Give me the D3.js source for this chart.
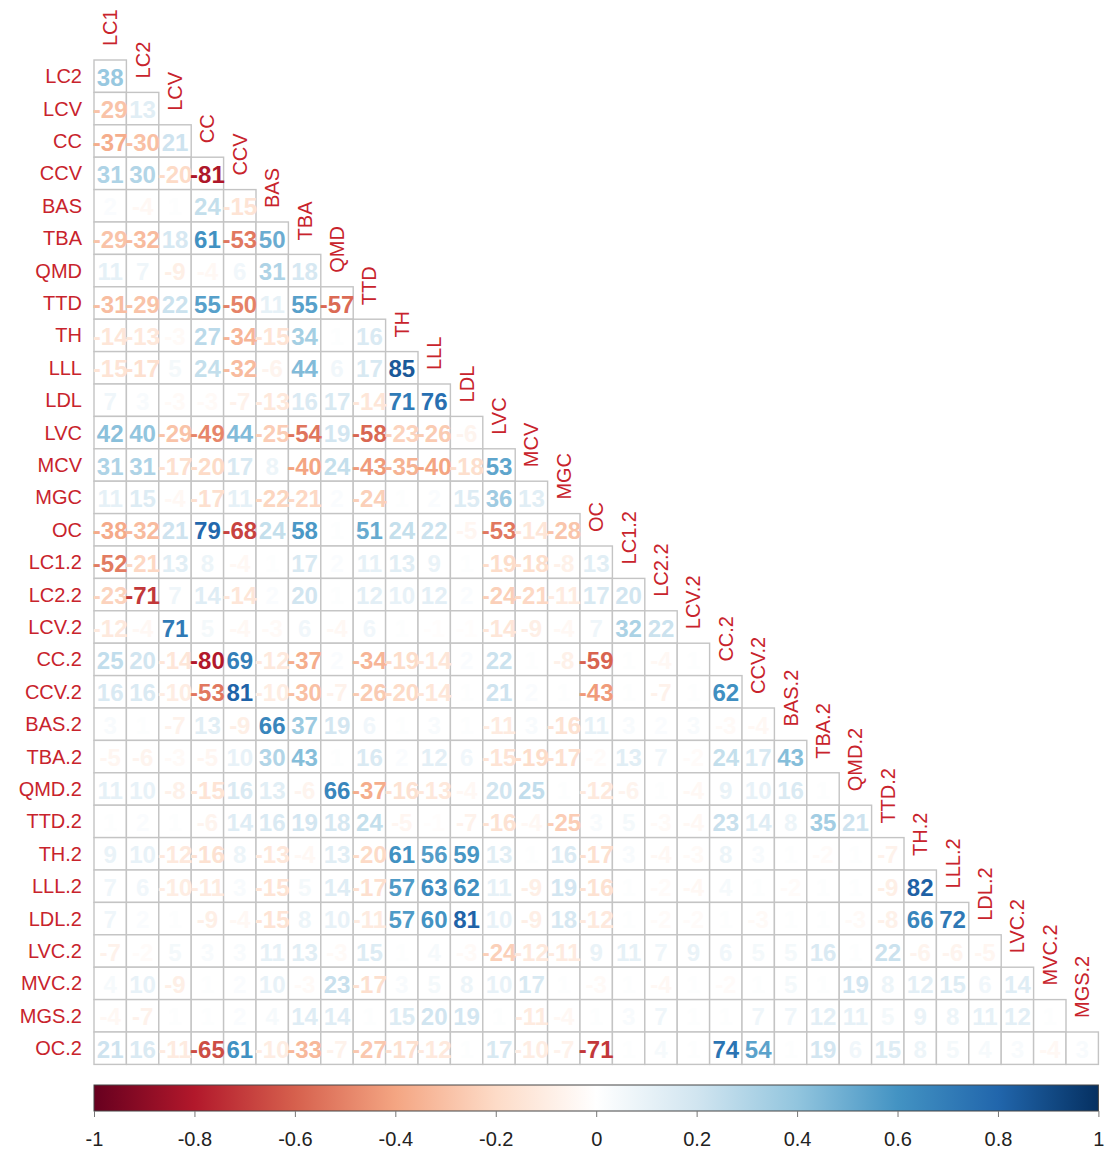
<!DOCTYPE html>
<html>
<head>
<meta charset="utf-8">
<script src="https://cdn.jsdelivr.net/npm/d3@7/dist/d3.min.js"></script>
<style>
  body { margin: 0; background: #ffffff; }
  svg { display: block; }
</style>
</head>
<body>
<svg id="chart" width="1107" height="1152"></svg>
<script>
// Variables along the columns (top, rotated) and rows (left)
const colVars = ["LC1","LC2","LCV","CC","CCV","BAS","TBA","QMD","TTD","TH","LLL","LDL","LVC","MCV","MGC","OC",
  "LC1.2","LC2.2","LCV.2","CC.2","CCV.2","BAS.2","TBA.2","QMD.2","TTD.2","TH.2","LLL.2","LDL.2","LVC.2","MVC.2","MGS.2"];
const rowVars = ["LC2","LCV","CC","CCV","BAS","TBA","QMD","TTD","TH","LLL","LDL","LVC","MCV","MGC","OC",
  "LC1.2","LC2.2","LCV.2","CC.2","CCV.2","BAS.2","TBA.2","QMD.2","TTD.2","TH.2","LLL.2","LDL.2","LVC.2","MVC.2","MGS.2","OC.2"];

// Correlation coefficients x100, lower triangle, one array per row
const rLC2  = [38];
const rLCV  = [-29, 13];
const rCC   = [-37, -30, 21];
const rCCV  = [31, 30, -20, -81];
const rBAS  = [2, -4, 1, 24, -15];
const rTBA  = [-29, -32, 18, 61, -53, 50];
const rQMD  = [11, 7, -9, -4, 6, 31, 18];
const rTTD  = [-31, -29, 22, 55, -50, 11, 55, -57];
const rTH   = [-14, -13, -3, 27, -34, -15, 34, 1, 16];
const rLLL  = [-15, -17, 5, 24, -32, -6, 44, 6, 17, 85];
const rLDL  = [7, 3, -3, -3, -7, -13, 16, 17, -14, 71, 76];
const rLVC  = [42, 40, -29, -49, 44, -25, -54, 19, -58, -23, -26, -6];
const rMCV  = [31, 31, -17, -20, 17, 8, -40, 24, -43, -35, -40, -18, 53];
const rMGC  = [11, 15, -4, -17, 11, -22, -21, 2, -24, 1, 2, 15, 36, 13];
const rOC   = [-38, -32, 21, 79, -68, 24, 58, 1, 51, 24, 22, -5, -53, -14, -28];
const rLC1_2 = [-52, -21, 13, 8, -4, 1, 17, 2, 11, 13, 9, 1, -19, -18, -8, 13];
const rLC2_2 = [-23, -71, 7, 14, -14, 2, 20, 1, 12, 10, 12, 2, -24, -21, -11, 17, 20];
const rLCV_2 = [-12, -4, 71, 5, -4, -3, 6, -4, 6, 1, -1, -1, -14, -9, -4, 7, 32, 22];
const rCC_2  = [25, 20, -14, -80, 69, -12, -37, 2, -34, -19, -14, 2, 22, 1, -8, -59, 1, -4, 1];
const rCCV_2 = [16, 16, -10, -53, 81, -10, -30, -7, -26, -20, -14, 1, 21, 2, 1, -43, 1, -7, 1, 62];
const rBAS_2 = [3, 1, -7, 13, -9, 66, 37, 19, 6, 1, 3, 1, -11, 3, -16, 11, 3, 2, 3, -3, -4];
const rTBA_2 = [-5, -6, -3, -5, 10, 30, 43, 1, 16, 2, 12, 6, -15, -19, -17, -2, 13, 7, -2, 24, 17, 43];
const rQMD_2 = [11, 10, -8, -15, 16, 13, -6, 66, -37, -16, -13, -4, 20, 25, 1, -12, -6, 1, -4, 9, 10, 16, 1];
const rTTD_2 = [1, 2, 1, -6, 14, 16, 19, 18, 24, -5, -1, -7, -16, -4, -25, 3, 5, -3, -4, 23, 14, 8, 35, 21];
const rTH_2  = [9, 10, -12, -16, 8, -13, -4, 13, -20, 61, 56, 59, 13, 1, 16, -17, 3, -4, -3, 8, 3, 1, -2, 1, -7];
const rLLL_2 = [7, 6, -10, -11, 3, -15, 5, 14, -17, 57, 63, 62, 11, -9, 19, -16, 1, -2, -4, 4, 1, -2, 1, 1, -9, 82];
const rLDL_2 = [7, 2, 1, -9, -4, -15, 8, 10, -11, 57, 60, 81, 10, -9, 18, -12, 1, -2, -2, 1, -3, 1, 1, -3, -8, 66, 72];
const rLVC_2 = [-7, -2, 5, 3, 3, 11, 13, -3, 15, 1, 4, -3, -24, -12, -11, 9, 11, 7, 9, 6, 5, 5, 16, 1, 22, -6, -6, -5];
const rMVC_2 = [4, 10, -9, 1, 2, 10, -3, 23, -17, 3, 5, 8, 10, 17, 1, -3, 1, -4, 1, -2, 1, 5, 1, 19, 8, 12, 15, 6, 14];
const rMGS_2 = [-4, -7, 1, 1, 2, 4, 14, 14, 1, 15, 20, 19, 1, -11, -4, 1, 3, 7, 1, 1, 7, 7, 12, 11, 5, 9, 8, 11, 12, 1];
const rOC_2  = [21, 16, -11, -65, 61, -10, -33, -7, -27, -17, -12, 1, 17, -10, -7, -71, 1, 4, 1, 74, 54, 1, 19, 6, 15, 8, 5, 4, 3, -4, 3];

const corrRows = [rLC2, rLCV, rCC, rCCV, rBAS, rTBA, rQMD, rTTD, rTH, rLLL, rLDL, rLVC, rMCV, rMGC, rOC,
  rLC1_2, rLC2_2, rLCV_2, rCC_2, rCCV_2, rBAS_2, rTBA_2, rQMD_2, rTTD_2, rTH_2, rLLL_2, rLDL_2, rLVC_2,
  rMVC_2, rMGS_2, rOC_2];

// Colour legend ticks
const legendTicks = [-1, -0.8, -0.6, -0.4, -0.2, 0, 0.2, 0.4, 0.6, 0.8, 1];

// Diverging red-white-blue palette
const paletteStops = ["#67001F","#B2182B","#D6604D","#F4A582","#FDDBC7","#FFFFFF",
                      "#D1E5F0","#92C5DE","#4393C3","#2166AC","#053061"];

const svg = d3.select("#chart");

const gridLeft = 94, gridTop = 60, cell = 32.4;
const nVars = colVars.length;

const x = d3.scaleBand().domain(colVars).range([gridLeft, gridLeft + nVars * cell]);
const y = d3.scaleBand().domain(rowVars).range([gridTop, gridTop + nVars * cell]);
const color = d3.scaleLinear()
  .domain(paletteStops.map((_, i) => -1 + i * 0.2))
  .range(paletteStops)
  .interpolate(d3.interpolateRgb);

const cells = [];
corrRows.forEach((vals, ri) => {
  vals.forEach((v, ci) => cells.push({ row: rowVars[ri], col: colVars[ci], v: v / 100 }));
});

const labelColor = "#c8232c";
const font = "'Liberation Sans', Arial, sans-serif";

// Grid cells
svg.append("g")
  .selectAll("rect")
  .data(cells)
  .join("rect")
  .attr("x", d => x(d.col))
  .attr("y", d => y(d.row))
  .attr("width", x.bandwidth())
  .attr("height", y.bandwidth())
  .attr("fill", "#ffffff")
  .attr("stroke", "#c4c4c4")
  .attr("stroke-width", 1.4);

// Coefficient numbers
svg.append("g")
  .selectAll("text")
  .data(cells)
  .join("text")
  .attr("x", d => x(d.col) + x.bandwidth() / 2)
  .attr("y", d => y(d.row) + y.bandwidth() / 2 + 1)
  .attr("text-anchor", "middle")
  .attr("dominant-baseline", "central")
  .attr("font-family", font)
  .attr("font-weight", "bold")
  .attr("font-size", 24)
  .attr("fill", d => color(d.v))
  .text(d => Math.round(d.v * 100));

// Row labels
svg.append("g")
  .selectAll("text")
  .data(rowVars)
  .join("text")
  .attr("x", gridLeft - 12)
  .attr("y", d => y(d) + y.bandwidth() / 2)
  .attr("text-anchor", "end")
  .attr("dominant-baseline", "central")
  .attr("font-family", font)
  .attr("font-size", 20)
  .attr("fill", labelColor)
  .text(d => d);

// Column labels, rotated, sitting on the diagonal
svg.append("g")
  .selectAll("text")
  .data(colVars)
  .join("text")
  .attr("transform", (d, i) => {
    const cx = x(d) + x.bandwidth() / 2;
    const cy = y(rowVars[i]) - 14;
    return `translate(${cx},${cy}) rotate(-90)`;
  })
  .attr("text-anchor", "start")
  .attr("dominant-baseline", "central")
  .attr("font-family", font)
  .attr("font-size", 20)
  .attr("fill", labelColor)
  .text(d => d);

// Colour legend
const cbTop = 1085, cbHeight = 26;
const cb = d3.scaleLinear().domain([-1, 1]).range([gridLeft, gridLeft + nVars * cell]);

const grad = svg.append("defs").append("linearGradient")
  .attr("id", "corrGradient")
  .attr("x1", "0%").attr("x2", "100%").attr("y1", "0%").attr("y2", "0%");
grad.selectAll("stop")
  .data(paletteStops)
  .join("stop")
  .attr("offset", (d, i) => `${i * 10}%`)
  .attr("stop-color", d => d);

svg.append("rect")
  .attr("x", cb(-1))
  .attr("y", cbTop)
  .attr("width", cb(1) - cb(-1))
  .attr("height", cbHeight)
  .attr("fill", "url(#corrGradient)")
  .attr("stroke", "#444")
  .attr("stroke-width", 1);

const axis = d3.axisBottom(cb)
  .tickValues(legendTicks)
  .tickSize(6)
  .tickFormat(d => (Math.abs(d) < 1e-9 ? "0" : String(+d.toFixed(1))));

const ax = svg.append("g")
  .attr("transform", `translate(0,${cbTop + cbHeight})`)
  .call(axis);
ax.select(".domain").remove();
ax.selectAll(".tick line").attr("stroke", "#777");
ax.selectAll(".tick text")
  .attr("font-family", font)
  .attr("font-size", 20)
  .attr("fill", "#222")
  .attr("dy", "1.3em");
</script>
</body>
</html>
